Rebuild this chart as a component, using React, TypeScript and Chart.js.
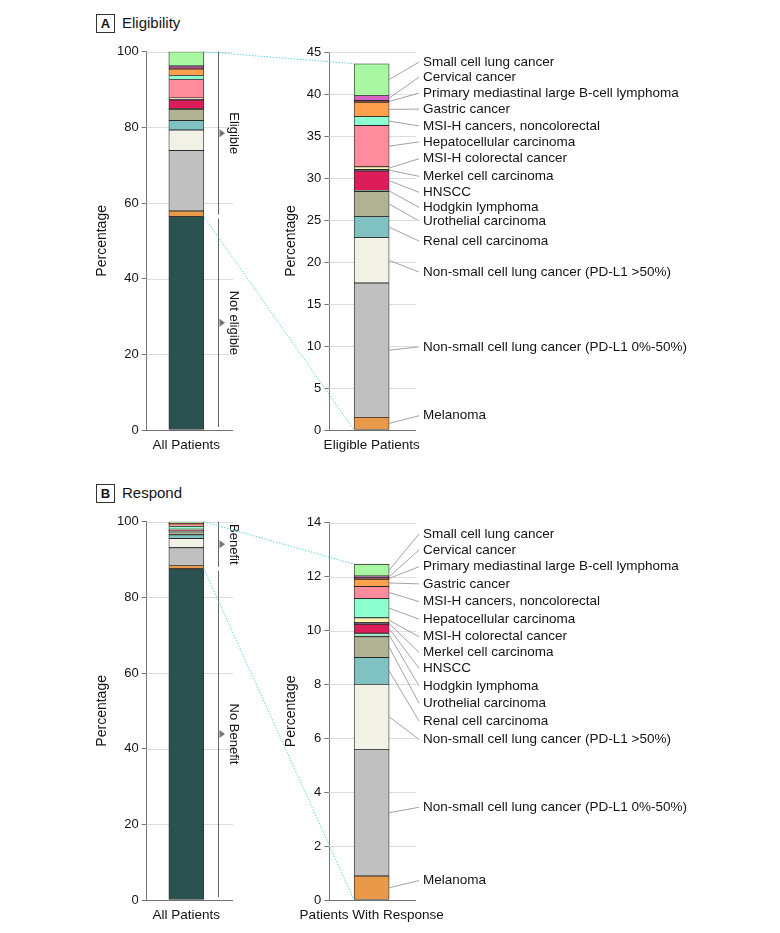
import React, { useEffect, useRef } from 'react';
import { Chart, registerables } from 'chart.js';

Chart.register(...registerables);

// ---------- DATA (stack order: bottom to top) ----------
const categories = [
  'Melanoma',
  'Non-small cell lung cancer (PD-L1 0%-50%)',
  'Non-small cell lung cancer (PD-L1 >50%)',
  'Renal cell carcinoma',
  'Urothelial carcinoma',
  'Hodgkin lymphoma',
  'HNSCC',
  'Merkel cell carcinoma',
  'MSI-H colorectal cancer',
  'Hepatocellular carcinoma',
  'MSI-H cancers, noncolorectal',
  'Gastric cancer',
  'Primary mediastinal large B-cell lymphoma',
  'Cervical cancer',
  'Small cell lung cancer',
];
const eligibleValues = [1.5, 16.0, 5.4, 2.5, 3.0, 0.13, 2.3, 0.19, 0.32, 4.9, 1.07, 1.71, 0.2, 0.6, 3.78];
const notEligibleValue = 56.4;
const respondValues = [0.89, 4.7, 2.41, 1.0, 0.77, 0.13, 0.33, 0.06, 0.18, 0.72, 0.44, 0.27, 0.06, 0.06, 0.44];
const noBenefitValue = 87.54;

const allPatientsTicks = [0, 20, 40, 60, 80, 100];
const eligibleTicks = [0, 5, 10, 15, 20, 25, 30, 35, 40, 45];
const respondTicks = [0, 2, 4, 6, 8, 10, 12, 14];

// label anchor heights (axis units) for the annotated bars
const eligibleLabelAt = [1.7, 9.9, 18.8, 22.5, 24.9, 26.5, 28.3, 30.2, 32.3, 34.3, 36.2, 38.2, 40.1, 42.0, 43.8];
const respondLabelAt = [0.72, 3.44, 5.96, 6.64, 7.3, 7.94, 8.6, 9.19, 9.77, 10.42, 11.07, 11.73, 12.37, 12.99, 13.58];

// ---------- STYLE ----------
const colorsA = ['#e8994a', '#c0c0c0', '#f1f1e6', '#80c1c1', '#b1b193', '#a6e3c4', '#dd1c5a', '#2d2d5e', '#fff2b0', '#ff8c9c', '#8dffd0', '#ffa04d', '#7b1e2d', '#d763c6', '#a9f7a2'];
const colorsB = ['#e8994a', '#c0c0c0', '#f1f1e6', '#80c1c1', '#b1b193', '#a6e3c4', '#dd1c5a', '#2d2d5e', '#fff2b0', '#8dffd0', '#ff8c9c', '#ffa04d', '#7b1e2d', '#d763c6', '#a9f7a2'];
const BASE_COLOR = '#2b5251';
const FONT = "'Liberation Sans', Arial, sans-serif";
const TEXT = '#141414';

const BOX = {
  aLeft: { left: 94, top: 40, width: 151, height: 420, padTop: 11.7, padRight: 19, yWidth: 52.7, xHeight: 30, ext: 7 },
  aRight: { left: 283, top: 40, width: 441, height: 420, padTop: 12, padRight: 310, yWidth: 46.3, xHeight: 30, ext: 2 },
  bLeft: { left: 94, top: 510, width: 151, height: 420, padTop: 11.7, padRight: 19, yWidth: 52.7, xHeight: 30, ext: 7 },
  bRight: { left: 283, top: 510, width: 441, height: 420, padTop: 12.7, padRight: 310, yWidth: 46.3, xHeight: 30, ext: 2 },
};

const makeGrid = (ext: number) => ({
  id: 'extGrid',
  beforeDatasetsDraw(chart: any) {
    const { ctx, chartArea, scales } = chart;
    const y = scales.y;
    ctx.save();
    ctx.lineWidth = 1;
    y.ticks.forEach((t: any) => {
      const py = Math.round(y.getPixelForValue(t.value)) + 0.5;
      ctx.strokeStyle = t.value === 0 ? '#707070' : '#dcdcdc';
      ctx.beginPath();
      ctx.moveTo(chartArea.left, py);
      ctx.lineTo(chartArea.right + ext, py);
      ctx.stroke();
    });
    ctx.restore();
  },
});

const makeLabels = (names: string[], at: number[]) => ({
  id: 'segLabels',
  afterDatasetsDraw(chart: any) {
    const { ctx, chartArea, scales } = chart;
    const y = scales.y;
    ctx.save();
    ctx.font = `13.5px ${FONT}`;
    ctx.textBaseline = 'middle';
    ctx.textAlign = 'left';
    names.forEach((name, i) => {
      const el: any = chart.getDatasetMeta(i).data[0];
      if (!el) return;
      const mid = (el.y + el.base) / 2;
      const xr = el.x + el.width / 2;
      const ly = y.getPixelForValue(at[i]);
      ctx.strokeStyle = '#8c8c8c';
      ctx.lineWidth = 0.8;
      ctx.beginPath();
      ctx.moveTo(xr, mid);
      ctx.lineTo(chartArea.right + 5, ly);
      ctx.stroke();
      ctx.fillStyle = TEXT;
      ctx.fillText(name, chartArea.right + 9, ly);
    });
    ctx.restore();
  },
});

const makeBracket = (upper: string, lower: string) => ({
  id: 'bracket',
  afterDatasetsDraw(chart: any) {
    const { ctx, scales } = chart;
    const y = scales.y;
    const el: any = chart.getDatasetMeta(0).data[0];
    const x = Math.round(el.x + el.width / 2 + 14) + 0.5;
    const yTop = y.getPixelForValue(y.max);
    const yB = el.y;
    const y0 = y.getPixelForValue(0);
    const segs: [number, number, string][] = [
      [yTop, yB - 2, upper],
      [yB + 2, y0 - 3, lower],
    ];
    ctx.save();
    segs.forEach(([a, b, txt]) => {
      ctx.strokeStyle = '#666';
      ctx.lineWidth = 1;
      ctx.beginPath();
      ctx.moveTo(x, a);
      ctx.lineTo(x, b);
      ctx.stroke();
      const m = (a + b) / 2;
      ctx.fillStyle = '#777';
      ctx.beginPath();
      ctx.moveTo(x + 1, m - 4);
      ctx.lineTo(x + 6.5, m);
      ctx.lineTo(x + 1, m + 4);
      ctx.closePath();
      ctx.fill();
      ctx.save();
      ctx.translate(x + 15, m);
      ctx.rotate(Math.PI / 2);
      ctx.font = `13px ${FONT}`;
      ctx.fillStyle = TEXT;
      ctx.textAlign = 'center';
      ctx.textBaseline = 'middle';
      ctx.fillText(txt, 0, 0);
      ctx.restore();
    });
    ctx.restore();
  },
});

function makeChart(
  canvas: HTMLCanvasElement,
  box: any,
  xLabel: string,
  datasets: any[],
  ticks: number[],
  max: number,
  extraPlugins: any[],
) {
  return new Chart(canvas, {
    type: 'bar',
    data: { labels: [xLabel], datasets },
    options: {
      responsive: false,
      animation: false,
      devicePixelRatio: 1,
      layout: { padding: { left: 0, top: box.padTop, right: box.padRight, bottom: 0 } },
      plugins: { legend: { display: false }, tooltip: { enabled: false } },
      scales: {
        x: {
          stacked: true,
          grid: { display: false, drawTicks: false },
          border: { display: false },
          ticks: { font: { family: FONT, size: 13.5 }, color: TEXT, padding: 7, maxRotation: 0, autoSkip: false },
          afterFit: (s: any) => {
            s.height = box.xHeight;
            s.paddingLeft = 0;
            s.paddingRight = 0;
          },
        },
        y: {
          stacked: true,
          min: 0,
          max,
          afterBuildTicks: (s: any) => {
            s.ticks = ticks.map((v) => ({ value: v }));
          },
          ticks: { font: { family: FONT, size: 13 }, color: TEXT, padding: 3 },
          grid: { drawOnChartArea: false, tickLength: 5, color: '#777' },
          border: { color: '#777', width: 1 },
          title: {
            display: true,
            text: 'Percentage',
            font: { family: FONT, size: 14 },
            color: TEXT,
            padding: 0,
          },
          afterFit: (s: any) => {
            s.width = box.yWidth;
            s.paddingTop = 0;
            s.paddingBottom = 0;
          },
        },
      },
    } as any,
    plugins: [makeGrid(box.ext), ...extraPlugins],
  });
}

const segDatasets = (values: number[], colors: string[]) =>
  categories.map((name, i) => ({
    label: name,
    data: [values[i]],
    backgroundColor: colors[i],
    borderColor: '#2a2a2a',
    borderWidth: 0.8,
    borderSkipped: false,
    barThickness: 35,
    stack: 's',
  }));

const baseDataset = (label: string, value: number) => ({
  label,
  data: [value],
  backgroundColor: BASE_COLOR,
  borderColor: '#2a2a2a',
  borderWidth: 0.8,
  borderSkipped: false,
  barThickness: 35,
  stack: 's',
});

export default function App() {
  const aL = useRef<HTMLCanvasElement>(null);
  const aR = useRef<HTMLCanvasElement>(null);
  const bL = useRef<HTMLCanvasElement>(null);
  const bR = useRef<HTMLCanvasElement>(null);
  const ov = useRef<HTMLCanvasElement>(null);

  useEffect(() => {
    const cAL = makeChart(aL.current!, BOX.aLeft, 'All Patients',
      [baseDataset('Not eligible', notEligibleValue), ...segDatasets(eligibleValues, colorsA)],
      allPatientsTicks, 100, [makeBracket('Eligible', 'Not eligible')]);
    const cAR = makeChart(aR.current!, BOX.aRight, 'Eligible Patients',
      segDatasets(eligibleValues, colorsA), eligibleTicks, 45, [makeLabels(categories, eligibleLabelAt)]);
    const cBL = makeChart(bL.current!, BOX.bLeft, 'All Patients',
      [baseDataset('No Benefit', noBenefitValue), ...segDatasets(respondValues, colorsB)],
      allPatientsTicks, 100, [makeBracket('Benefit', 'No Benefit')]);
    const cBR = makeChart(bR.current!, BOX.bRight, 'Patients With Response',
      segDatasets(respondValues, colorsB), respondTicks, 14, [makeLabels(categories, respondLabelAt)]);

    const ctx = ov.current!.getContext('2d')!;
    ctx.clearRect(0, 0, 780, 933);
    const link = (left: any, lbox: any, right: any, rbox: any) => {
      const nL = left.data.datasets.length;
      const topL: any = left.getDatasetMeta(nL - 1).data[0];
      const baseL: any = left.getDatasetMeta(0).data[0];
      const nR = right.data.datasets.length;
      const topR: any = right.getDatasetMeta(nR - 1).data[0];
      const firstR: any = right.getDatasetMeta(0).data[0];
      const xl = lbox.left + baseL.x + baseL.width / 2;
      const xr = rbox.left + firstR.x - firstR.width / 2;
      ctx.save();
      ctx.strokeStyle = '#5fd6e2';
      ctx.lineWidth = 1;
      ctx.setLineDash([1.5, 1.5]);
      ctx.beginPath();
      ctx.moveTo(xl, lbox.top + topL.y);
      ctx.lineTo(xr, rbox.top + topR.y);
      ctx.moveTo(xl, lbox.top + baseL.y);
      ctx.lineTo(xr, rbox.top + right.scales.y.getPixelForValue(0));
      ctx.stroke();
      ctx.restore();
    };
    link(cAL, BOX.aLeft, cAR, BOX.aRight);
    link(cBL, BOX.bLeft, cBR, BOX.bRight);

    return () => {
      cAL.destroy();
      cAR.destroy();
      cBL.destroy();
      cBR.destroy();
    };
  }, []);

  const cv = (ref: any, b: any) => (
    <canvas
      ref={ref}
      width={b.width}
      height={b.height}
      style={{ position: 'absolute', left: b.left, top: b.top, width: b.width, height: b.height }}
    />
  );

  const panelLabel = (letter: string, title: string, top: number) => (
    <>
      <div
        style={{
          position: 'absolute', left: 96, top, width: 17, height: 17, border: '1px solid #333',
          display: 'flex', alignItems: 'center', justifyContent: 'center',
          font: `bold 13px ${FONT}`, color: TEXT,
        }}
      >
        {letter}
      </div>
      <div style={{ position: 'absolute', left: 122, top, lineHeight: '19px', font: `15px ${FONT}`, color: TEXT }}>
        {title}
      </div>
    </>
  );

  return (
    <div style={{ position: 'absolute', left: 0, top: 0, width: 780, height: 933, background: '#fff' }}>
      {panelLabel('A', 'Eligibility', 14)}
      {panelLabel('B', 'Respond', 484)}
      {cv(aL, BOX.aLeft)}
      {cv(aR, BOX.aRight)}
      {cv(bL, BOX.bLeft)}
      {cv(bR, BOX.bRight)}
      <canvas
        ref={ov}
        width={780}
        height={933}
        style={{ position: 'absolute', left: 0, top: 0, width: 780, height: 933, pointerEvents: 'none' }}
      />
    </div>
  );
}
